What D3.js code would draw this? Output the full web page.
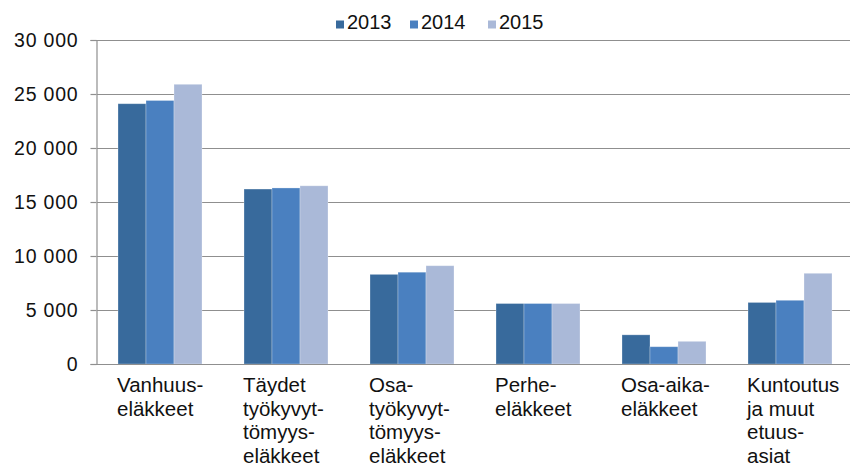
<!DOCTYPE html>
<html>
<head>
<meta charset="utf-8">
<script src="https://cdn.jsdelivr.net/npm/d3@7"></script>
<style>
  html, body { margin: 0; padding: 0; background: #fff; }
  svg { display: block; font-family: "Liberation Sans", Arial, sans-serif; }
</style>
</head>
<body>
<svg id="chart" width="850" height="466"></svg>
<script>
// category labels, one array of lines per category
const categories = ["Vanhuus-eläkkeet", "Täydet työkyvyttömyyseläkkeet", "Osa-työkyvyttömyyseläkkeet",
                    "Perhe-eläkkeet", "Osa-aika-eläkkeet", "Kuntoutus ja muut etuusasiat"];
const categoryLines = [
  ["Vanhuus-", "eläkkeet"],
  ["Täydet", "työkyvyt-", "tömyys-", "eläkkeet"],
  ["Osa-", "työkyvyt-", "tömyys-", "eläkkeet"],
  ["Perhe-", "eläkkeet"],
  ["Osa-aika-", "eläkkeet"],
  ["Kuntoutus", "ja muut", "etuus-", "asiat"]
];
const years = ["2013", "2014", "2015"];
const values2013 = [24100, 16200, 8300, 5600, 2700, 5700];
const values2014 = [24400, 16300, 8500, 5600, 1600, 5900];
const values2015 = [25900, 16500, 9100, 5600, 2100, 8400];
const yTicks = [0, 5000, 10000, 15000, 20000, 25000, 30000];
const colors = ["#386a9c", "#4a80c0", "#aab9d8"];

const series = [values2013, values2014, values2015];

const svg = d3.select("#chart");

const x0 = d3.scaleBand().domain(categories).range([97, 853])
    .paddingInner(1 / 3).paddingOuter(1 / 6);
const x1 = d3.scaleBand().domain(years).range([0, x0.bandwidth()]);
const y = d3.scaleLinear().domain([0, 30000]).range([364, 40]);

// gridlines
svg.append("g").selectAll("line")
    .data(yTicks.filter(d => d > 0))
    .join("line")
    .attr("x1", 97).attr("x2", 850)
    .attr("y1", d => Math.round(y(d)) + 0.5).attr("y2", d => Math.round(y(d)) + 0.5)
    .attr("stroke", "#8f8f8f").attr("stroke-width", 1.2);

// bars
const groups = svg.append("g").selectAll("g")
    .data(categories)
    .join("g")
    .attr("transform", d => `translate(${x0(d)},0)`);

groups.selectAll("rect")
    .data((c, i) => years.map((yr, k) => ({ yr, k, v: series[k][i] })))
    .join("rect")
    .attr("x", d => x1(d.yr))
    .attr("y", d => y(d.v))
    .attr("width", x1.bandwidth())
    .attr("height", d => y(0) - y(d.v))
    .attr("fill", d => colors[d.k])
    .attr("stroke", "rgba(255,255,255,0.35)")
    .attr("stroke-width", 0.8);

// y axis
const yAxis = svg.append("g")
    .attr("transform", "translate(96.5,0)")
    .call(d3.axisLeft(y).tickValues(yTicks).tickSize(6).tickPadding(12)
        .tickFormat(d => d3.format(",")(d).replace(/,/g, "\u00a0")));
yAxis.select(".domain").attr("stroke", "#8f8f8f").attr("stroke-width", 1.2);
yAxis.selectAll(".tick line").attr("stroke", "#8f8f8f").attr("stroke-width", 1.2);
yAxis.selectAll(".tick text")
    .attr("font-size", 19.5).attr("letter-spacing", 0.8).attr("fill", "#111")
    .attr("font-family", "Liberation Sans, Arial, sans-serif");

// x baseline
svg.append("line")
    .attr("x1", 91).attr("x2", 850)
    .attr("y1", Math.round(y(0)) + 0.5).attr("y2", Math.round(y(0)) + 0.5)
    .attr("stroke", "#8f8f8f").attr("stroke-width", 1.2);

// category labels
svg.append("g").selectAll("text")
    .data(categories)
    .join("text")
    .attr("x", d => x0(d) - 1)
    .attr("y", 392)
    .attr("font-size", 20.5)
    .attr("fill", "#111")
    .each(function (d, i) {
        d3.select(this).selectAll("tspan")
            .data(categoryLines[i])
            .join("tspan")
            .attr("x", x0(d) - 1)
            .attr("dy", (t, j) => j === 0 ? 0 : 23.5)
            .text(t => t);
    });

// legend
const legendX = [336, 410, 488];
const legend = svg.append("g").selectAll("g")
    .data(years)
    .join("g")
    .attr("transform", (d, i) => `translate(${legendX[i]},0)`);
legend.append("rect")
    .attr("x", 0).attr("y", 20.5).attr("width", 8).attr("height", 8)
    .attr("fill", (d, i) => colors[i]);
legend.append("text")
    .attr("x", 11).attr("y", 28.5)
    .attr("font-size", 20).attr("fill", "#111")
    .text(d => d);
</script>
</body>
</html>
